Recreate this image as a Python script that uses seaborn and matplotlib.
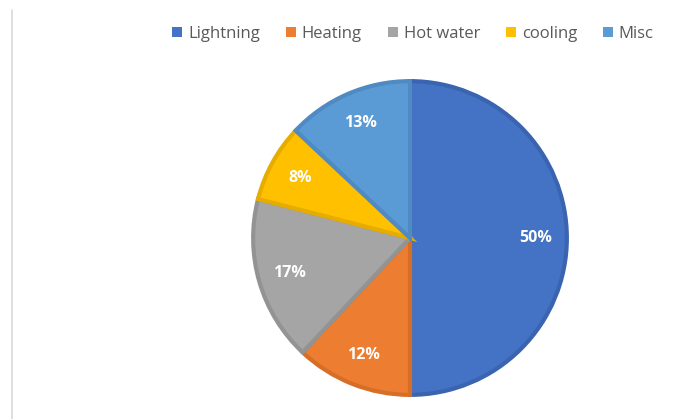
import matplotlib
matplotlib.use("Agg")
import matplotlib.pyplot as plt
import seaborn as sns
from matplotlib.lines import Line2D

categories = ["Lightning", "Heating", "Hot water", "cooling", "Misc"]
values = [50, 12, 17, 8, 13]
colors = ["#4472C4", "#ED7D31", "#A5A5A5", "#FFC000", "#5B9BD5"]
edge_colors = ["#3B64B0", "#D66E28", "#939393", "#E6AD00", "#4F8AC2"]

sns.set_theme(style="white")
plt.rcParams['font.family'] = ['Open Sans', 'DejaVu Sans']

fig = plt.figure(figsize=(6.85, 4.19), dpi=100)
fig.patch.set_facecolor("white")

ax = fig.add_axes([250 / 685, 21 / 419, 320 / 685, 320 / 419])
wedges, texts, autotexts = ax.pie(
    values, colors=colors, startangle=90, counterclock=False,
    autopct=lambda p: f"{p:.0f}%", pctdistance=0.8,
    wedgeprops=dict(linewidth=3, joinstyle="miter"),
    textprops=dict(color="white", fontsize=11.5, fontweight="bold"),
)
for w, ec in zip(wedges, edge_colors):
    w.set_edgecolor(ec)
ax.set_xlim(-1.02, 1.02)
ax.set_ylim(-1.02, 1.02)
ax.set_aspect("equal")

leg = fig.legend(
    wedges, categories, loc="center", bbox_to_anchor=(413 / 685, 1 - 34 / 419),
    ncol=5, frameon=False, fontsize=12, handlelength=0.6, handleheight=0.6,
    handletextpad=0.35, columnspacing=1.55, labelcolor="#595959",
)
for h in leg.legend_handles:
    h.set_linewidth(0)

fig.add_artist(Line2D([12 / 685, 12 / 685], [0, 1 - 10 / 419],
                      color="#D9D9D9", linewidth=1.2, transform=fig.transFigure))

fig.savefig("out.png", dpi=100)
